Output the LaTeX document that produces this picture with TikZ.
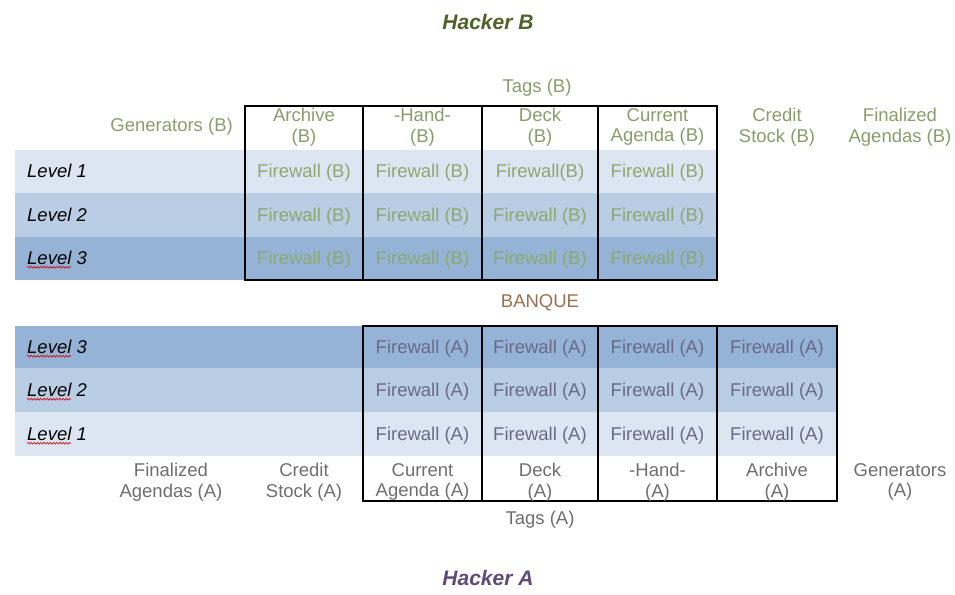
\documentclass[tikz,border=0pt]{standalone}
\usepackage{fontspec}
\setmainfont{Liberation Sans}
\usetikzlibrary{decorations.pathmorphing}
\definecolor{lvlone}{HTML}{DCE6F2}
\definecolor{lvltwo}{HTML}{B9CDE5}
\definecolor{lvlthree}{HTML}{95B3D7}
\definecolor{btext}{HTML}{8A9C6A}
\definecolor{fwb}{HTML}{8DA870}
\definecolor{fwa}{HTML}{6A6A88}
\definecolor{atext}{HTML}{6E6E6E}
\definecolor{hackb}{HTML}{4F6228}
\definecolor{hacka}{HTML}{5F4A7A}
\definecolor{banq}{HTML}{9A7050}
\begin{document}
\begin{tikzpicture}[x=1pt,y=-1pt,
  txt/.style={font=\fontsize{18.5}{20.5}\selectfont, align=center, inner sep=0pt},
  one/.style={txt, text height=13.5pt, text depth=1pt},
  hdrb/.style={txt, text=btext},
  hdra/.style={txt, text=atext},
  fwbcell/.style={one, text=fwb},
  fwacell/.style={one, text=fwa},
  lvl/.style={one, text=black, font=\fontsize{18.5}{20.5}\selectfont\itshape, anchor=west},
  title/.style={inner sep=0pt, font=\fontsize{21}{24}\selectfont\bfseries\itshape},
  gridline/.style={line width=1.4pt, black},
  squig/.style={red!85!black, line width=0.6pt, decorate, decoration={snake, amplitude=0.9pt, segment length=3.2pt}}
]
\useasboundingbox (0,0) rectangle (955,594);

% ---------- bands ----------
\fill[lvlone]   (15,150) rectangle (717,193);
\fill[lvltwo]   (15,193) rectangle (717,237);
\fill[lvlthree] (15,237) rectangle (717,280);

\fill[lvlthree] (15,326) rectangle (837,368);
\fill[lvltwo]   (15,368) rectangle (837,412);
\fill[lvlone]   (15,412) rectangle (837,456);

% ---------- grids ----------
\draw[gridline] (245,106) rectangle (717,280);
\foreach \x in {363,482,598} \draw[gridline] (\x,106) -- (\x,280);
\draw[gridline] (363,326) rectangle (837,501);
\foreach \x in {482,598,717} \draw[gridline] (\x,326) -- (\x,501);

% ---------- titles ----------
\node[title, text=hackb] (hackerb) at (488,22) {Hacker B};
\node[hdrb] (tagsb) at (537,88) {Tags (B)};
\node[txt, text=banq] (banque) at (540,303) {BANQUE};
\node[hdra] (tagsa) at (540,520) {Tags (A)};
\node[title, text=hacka] (hackera) at (488,578) {Hacker A};

% ---------- header B ----------
\node[hdrb, anchor=east] (genb) at (233,127) {Generators (B)};
\node[hdrb] (archb) at (304,127) {Archive\\(B)};
\node[hdrb] (handb) at (422.5,127) {-Hand-\\(B)};
\node[hdrb] (deckb) at (540,127) {Deck\\(B)};
\node[hdrb] (curb) at (657.5,127) {Current\\Agenda (B)};
\node[hdrb] (credb) at (777,127) {Credit\\Stock (B)};
\node[hdrb] (finb) at (900,127) {Finalized\\Agendas (B)};

% ---------- levels B ----------
\node[lvl] (bl1) at (27,171) {Level 1};
\node[lvl] (bl2) at (27,215) {Level 2};
\node[lvl] (bl3) at (27,258) {Level 3};
\draw[squig] ([yshift=-3pt]bl3.base west) -- ++(44,0);

% ---------- firewalls B ----------
\node[fwbcell] (b11) at (304,171) {Firewall (B)};
\node[fwbcell] (b12) at (422.5,171) {Firewall (B)};
\node[fwbcell] (b13) at (540,171) {Firewall(B)};
\node[fwbcell] (b14) at (657.5,171) {Firewall (B)};
\node[fwbcell] (b21) at (304,215) {Firewall (B)};
\node[fwbcell] (b22) at (422.5,215) {Firewall (B)};
\node[fwbcell] (b23) at (540,215) {Firewall (B)};
\node[fwbcell] (b24) at (657.5,215) {Firewall (B)};
\node[fwbcell] (b31) at (304,258) {Firewall (B)};
\node[fwbcell] (b32) at (422.5,258) {Firewall (B)};
\node[fwbcell] (b33) at (540,258) {Firewall (B)};
\node[fwbcell] (b34) at (657.5,258) {Firewall (B)};

% ---------- levels A ----------
\node[lvl] (al3) at (27,347) {Level 3};
\node[lvl] (al2) at (27,390) {Level 2};
\node[lvl] (al1) at (27,434) {Level 1};
\draw[squig] ([yshift=-3pt]al3.base west) -- ++(44,0);
\draw[squig] ([yshift=-3pt]al2.base west) -- ++(44,0);
\draw[squig] ([yshift=-3pt]al1.base west) -- ++(44,0);

% ---------- firewalls A ----------
\foreach \r/\y in {3/347,2/390,1/434}{
  \foreach \c/\x in {1/422.5,2/540,3/657.5,4/777}{
    \node[fwacell] (a\r\c) at (\x,\y) {Firewall (A)};
  }
}

% ---------- footer A ----------
\node[hdra] (fina) at (171,482) {Finalized\\Agendas (A)};
\node[hdra] (creda) at (304,482) {Credit\\Stock (A)};
\node[hdra] (cura) at (422.5,482) {Current\\Agenda (A)};
\node[hdra] (decka) at (540,482) {Deck\\(A)};
\node[hdra] (handa) at (657.5,482) {-Hand-\\(A)};
\node[hdra] (archa) at (777,482) {Archive\\(A)};
\node[hdra] (gena) at (900,482) {Generators\\(A)};
\end{tikzpicture}
\end{document}
